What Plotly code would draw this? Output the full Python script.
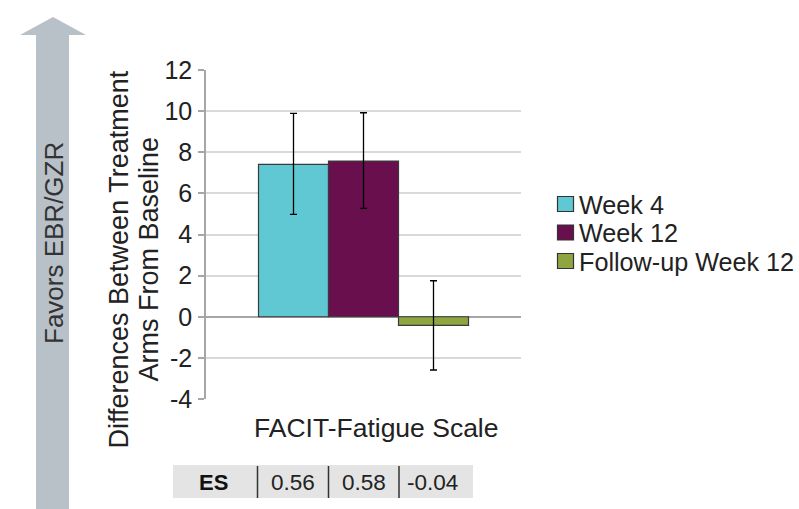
import plotly.graph_objects as go

# ---------------- data ----------------
category = ["FACIT-Fatigue Scale"]
series_names = ["Week 4", "Week 12", "Follow-up Week 12"]
series_values = [7.41, 7.57, -0.42]
err_plus = [2.48, 2.35, 2.17]
err_minus = [2.43, 2.30, 2.17]
series_colors = ["#5FC8D3", "#690F4D", "#8FA640"]
es_label = "ES"
es_values = ["0.56", "0.58", "-0.04"]
ytick_vals = [-4, -2, 0, 2, 4, 6, 8, 10, 12]
ytick_text = ["-4", "-2", "0", "2", "4", "6", "8", "10", "12"]
y_title_lines = ["Differences Between Treatment", "Arms From Baseline"]
arrow_text = "Favors EBR/GZR"

# ---------------- layout geometry (pixels) ----------------
W, H = 799, 509
L, R, T, B = 206, 521, 70, 399
PW, PH = R - L, B - T
FONT = "Liberation Sans, Arial, sans-serif"
TXT = "#222222"


def px(x):
    return (x - L) / PW


def py(y):
    return (B - y) / PH


fig = go.Figure()
for name, val, ep, em, col in zip(series_names, series_values, err_plus, err_minus, series_colors):
    fig.add_trace(go.Bar(
        x=category, y=[val], name=name,
        marker=dict(color=col, line=dict(color="#3a3a3a", width=1.2)),
        error_y=dict(type="data", symmetric=False, array=[ep], arrayminus=[em],
                     color="#000000", thickness=1.3, width=3.5),
        showlegend=False,
    ))

shapes = []
annotations = []

# Arrow on the left
ax = [36, 36, 20, 53, 86, 69, 69]
ay = [515, 35, 35, 17, 35, 35, 515]
path = "M " + " L ".join(f"{px(a):.5f},{py(b):.5f}" for a, b in zip(ax, ay)) + " Z"
shapes.append(dict(type="path", xref="paper", yref="paper", path=path,
                   fillcolor="#B8C0C8", line=dict(width=0), layer="below"))
annotations.append(dict(xref="paper", yref="paper", x=px(54), y=py(243), text=arrow_text,
                        textangle=-90, showarrow=False, font=dict(family=FONT, size=26, color="#333333"),
                        xanchor="center", yanchor="middle"))

# Y axis title (two lines)
for xc, line in zip([118, 148], y_title_lines):
    annotations.append(dict(xref="paper", yref="paper", x=px(xc), y=py(259.5), text=line,
                            textangle=-90, showarrow=False,
                            font=dict(family=FONT, size=27, color=TXT),
                            xanchor="center", yanchor="middle"))

# Category label
annotations.append(dict(xref="paper", yref="paper", x=px(376), y=py(428), text=category[0],
                        showarrow=False, font=dict(family=FONT, size=26.5, color=TXT),
                        xanchor="center", yanchor="middle"))

# Legend (manual)
leg_y = [204, 232.5, 261]
for yc, name, col in zip(leg_y, series_names, series_colors):
    shapes.append(dict(type="rect", xref="paper", yref="paper",
                       x0=px(557.5), x1=px(573.5), y0=py(yc - 7.5), y1=py(yc + 7.5),
                       fillcolor=col, line=dict(color="#333333", width=1.2)))
    annotations.append(dict(xref="paper", yref="paper", x=px(577), y=py(yc + 0.5), text=name,
                            showarrow=False, font=dict(family=FONT, size=25.2, color=TXT),
                            xanchor="left", yanchor="middle"))

# ES table
shapes.append(dict(type="rect", xref="paper", yref="paper",
                   x0=px(173), x1=px(473), y0=py(498), y1=py(465),
                   fillcolor="#E4E4E4", line=dict(width=0), layer="below"))
for xs in [257.5, 328.5, 399]:
    shapes.append(dict(type="line", xref="paper", yref="paper",
                       x0=px(xs), x1=px(xs), y0=py(498), y1=py(466),
                       line=dict(color="#333333", width=1.5)))
annotations.append(dict(xref="paper", yref="paper", x=px(213), y=py(482), text="<b>" + es_label + "</b>",
                        showarrow=False, font=dict(family=FONT, size=22, color="#111111"),
                        xanchor="center", yanchor="middle"))
for xc, v in zip([293, 363.5, 432], es_values):
    annotations.append(dict(xref="paper", yref="paper", x=px(xc), y=py(482), text=v,
                            showarrow=False, font=dict(family=FONT, size=22.5, color=TXT),
                            xanchor="center", yanchor="middle"))

fig.update_layout(
    width=W, height=H,
    margin=dict(l=L, r=W - R, t=T, b=H - B, pad=0),
    paper_bgcolor="white", plot_bgcolor="white",
    barmode="group", bargap=1 / 3, bargroupgap=0,
    font=dict(family=FONT, size=24, color=TXT),
    shapes=shapes, annotations=annotations,
    showlegend=False,
)
fig.update_xaxes(showticklabels=False, showgrid=False, showline=False, ticks="", zeroline=False)
fig.update_yaxes(range=[-4, 12], tickvals=ytick_vals, ticktext=ytick_text,
                 showgrid=True, gridcolor="#D9D9D9", gridwidth=1.5,
                 zeroline=True, zerolinecolor="#A6A6A6", zerolinewidth=1.5,
                 showline=True, linecolor="#A6A6A6", linewidth=1.5,
                 ticks="outside", ticklen=6, tickcolor="#A6A6A6", tickwidth=1.5,
                 ticklabelstandoff=1,
                 tickfont=dict(family=FONT, size=25, color=TXT))

fig.write_html("out.html")
